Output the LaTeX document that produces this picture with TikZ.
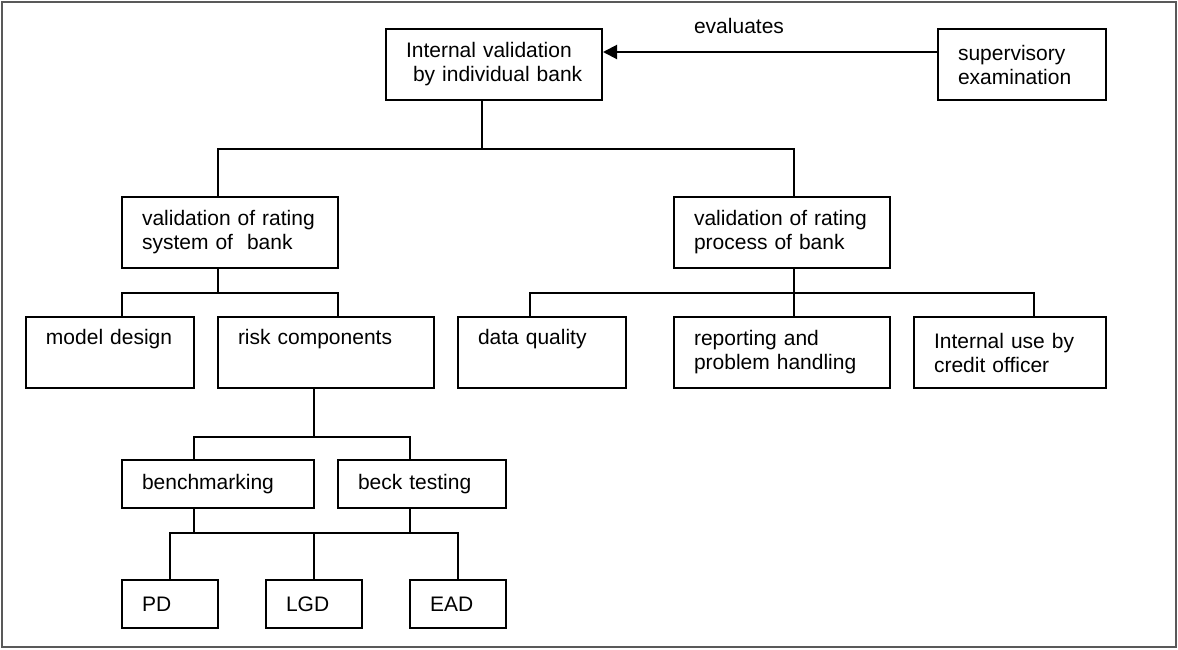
\documentclass[tikz,border=0pt]{standalone}
\usepackage{fontspec}
\setmainfont{Liberation Sans}
\usetikzlibrary{arrows.meta}

\tikzset{
  blk/.style={draw, line width=1pt, align=left, inner xsep=10pt, inner ysep=0pt,
    text width=#1, minimum height=35.5pt, font=\fontsize{10.5}{12}\selectfont},
  low/.style={minimum height=24pt},
  wire/.style={line width=1pt}
}

\begin{document}
\begin{tikzpicture}[x=0.5pt,y=-0.5pt]
	\useasboundingbox (0,0) rectangle (1178,649);
	\draw[black!65, line width=1pt] (2,2) rectangle (1176,647);
	% top row
	\node[blk=88pt] (intval) at (494,64.5) {Internal validation\\\mbox{\ by individual bank}};
	\node[blk=64pt] (sup) at (1022,64.5) {supervisory\\examination};
	\node[font=\fontsize{10.5}{12}\selectfont] (evallbl) at (739,26) {evaluates};
	\draw[wire, -{Triangle[length=7pt,width=7pt]}] ([yshift=6.25pt]sup.west) -- ([yshift=6.25pt]intval.east);
	% second row
	\node[blk=88pt] (sysval) at (230,232.5) {validation of rating\\system of\ \ bank};
	\node[blk=88pt] (procval) at (782,232.5) {validation of rating\\process of bank};
	\draw[wire] ([xshift=-6pt]intval.south) -- ++(0,48) -| ([xshift=-6pt]sysval.north);
	\draw[wire] ([xshift=-6pt]intval.south) ++(0,48) -| ([xshift=6pt]procval.north);
	% third row
	\node[blk=64pt] (model) at (110,352.5) {model design\\ \strut};
	\node[blk=88pt] (riskc) at (326,352.5) {risk components\\ \strut};
	\node[blk=64pt] (dataq) at (542,352.5) {data quality\\ \strut};
	\node[blk=88pt] (report) at (782,352.5) {reporting and\\problem handling};
	\node[blk=76pt] (intuse) at (1010,352.5) {Internal use by\\credit officer};
	\draw[wire] ([xshift=-6pt]sysval.south) -- ++(0,24) -| ([xshift=6pt]model.north);
	\draw[wire] ([xshift=-6pt]sysval.south) ++(0,24) -| ([xshift=6pt]riskc.north);
	\draw[wire] ([xshift=6pt]procval.south) -- ++(0,24) -| ([xshift=-6pt]dataq.north);
	\draw[wire] ([xshift=6pt]procval.south) ++(0,24) -| ([xshift=6pt]report.north);
	\draw[wire] ([xshift=6pt]procval.south) ++(0,24) -| ([xshift=12pt]intuse.north);
	% testing
	\node[blk=76pt, low] (bench) at (218,484) {benchmarking};
	\node[blk=64pt, low] (beck) at (422,484) {beck testing};
	\draw[wire] ([xshift=-6pt]riskc.south) -- ++(0,48) -| ([xshift=-12pt]bench.north);
	\draw[wire] ([xshift=-6pt]riskc.south) ++(0,48) -| ([xshift=-6pt]beck.north);
	% risk parameters
	\node[blk=28pt, low] (pd) at (170,604) {PD};
	\node[blk=28pt, low] (lgd) at (314,604) {LGD};
	\node[blk=28pt, low] (ead) at (458,604) {EAD};
	\draw[wire] ([xshift=-12pt]bench.south) -- ++(0,24) -| (pd.north);
	\draw[wire] ([xshift=-12pt]bench.south) ++(0,24) -| (lgd.north);
	\draw[wire] ([xshift=-6pt]beck.south) -- ++(0,24) -| (lgd.north);
	\draw[wire] ([xshift=-6pt]beck.south) ++(0,24) -| (ead.north);
\end{tikzpicture}
\end{document}
